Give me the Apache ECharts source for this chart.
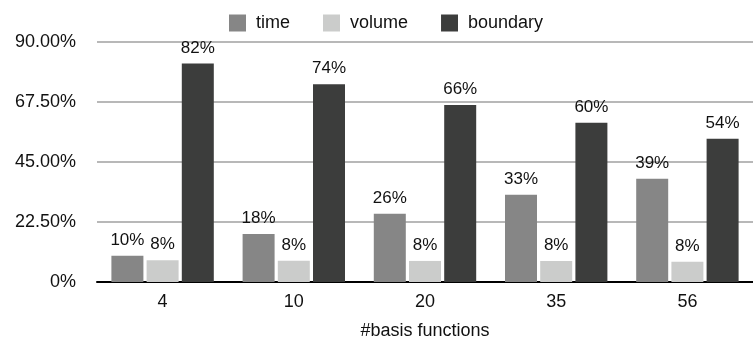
<!DOCTYPE html>
<html><head><meta charset="utf-8">
<script src="https://cdn.jsdelivr.net/npm/echarts@6/dist/echarts.min.js"></script>
<style>html,body{margin:0;padding:0;background:#fff}#c{width:753px;height:342px}</style>
</head><body><div id="c"></div>
<script>
const categories = ['4', '10', '20', '35', '56'];
const timeValues = [9.8, 18, 25.6, 32.7, 38.7];
const volumeValues = [8.2, 8.0, 7.9, 7.9, 7.6];
const boundaryValues = [81.9, 74.2, 66.4, 59.7, 53.7];
const yTicks = [0, 22.5, 45, 67.5, 90];
const seriesNames = ['time', 'volume', 'boundary'];
const colors = ['#868686', '#cbcccb', '#3c3d3c'];
const font = 'Liberation Sans, Arial, Helvetica, sans-serif';

const chart = echarts.init(document.getElementById('c'));
const label = {show: true, position: 'top', distance: 7, color: '#111', fontSize: 17, fontFamily: font,
  formatter: p => Math.round(p.value) + '%'};
const data = [timeValues, volumeValues, boundaryValues];
chart.setOption({
  animation: false,
  legend: {top: 9, left: 224, itemWidth: 17, itemHeight: 17, itemGap: 33,
    icon: 'rect',
    textStyle: {fontSize: 18, fontFamily: font, color: '#111', padding: [0, 0, 0, 5]},
    data: seriesNames},
  grid: {left: 97, right: 0, top: 42, bottom: 60, containLabel: false, outerBoundsMode: 'none'},
  xAxis: {type: 'category', data: categories,
    name: '#basis functions', nameLocation: 'middle', nameGap: 40,
    nameTextStyle: {fontSize: 18, fontFamily: font, color: '#111'},
    axisLine: {lineStyle: {color: '#000', width: 2}},
    axisTick: {show: false},
    axisLabel: {fontSize: 18, fontFamily: font, color: '#111', margin: 11}},
  yAxis: {type: 'value', min: yTicks[0], max: yTicks[yTicks.length - 1], interval: 22.5,
    axisLine: {show: false}, axisTick: {show: false},
    splitLine: {lineStyle: {color: '#b8b8b8', width: 2}},
    axisLabel: {fontSize: 18, fontFamily: font, color: '#111', margin: 21,
      formatter: v => v === 0 ? '0%' : v.toFixed(2) + '%'}},
  series: seriesNames.map((n, i) => ({
    name: n, type: 'bar', data: data[i], barWidth: 32, barGap: '10%',
    itemStyle: {color: colors[i]}, label: label
  }))
});
</script></body></html>
